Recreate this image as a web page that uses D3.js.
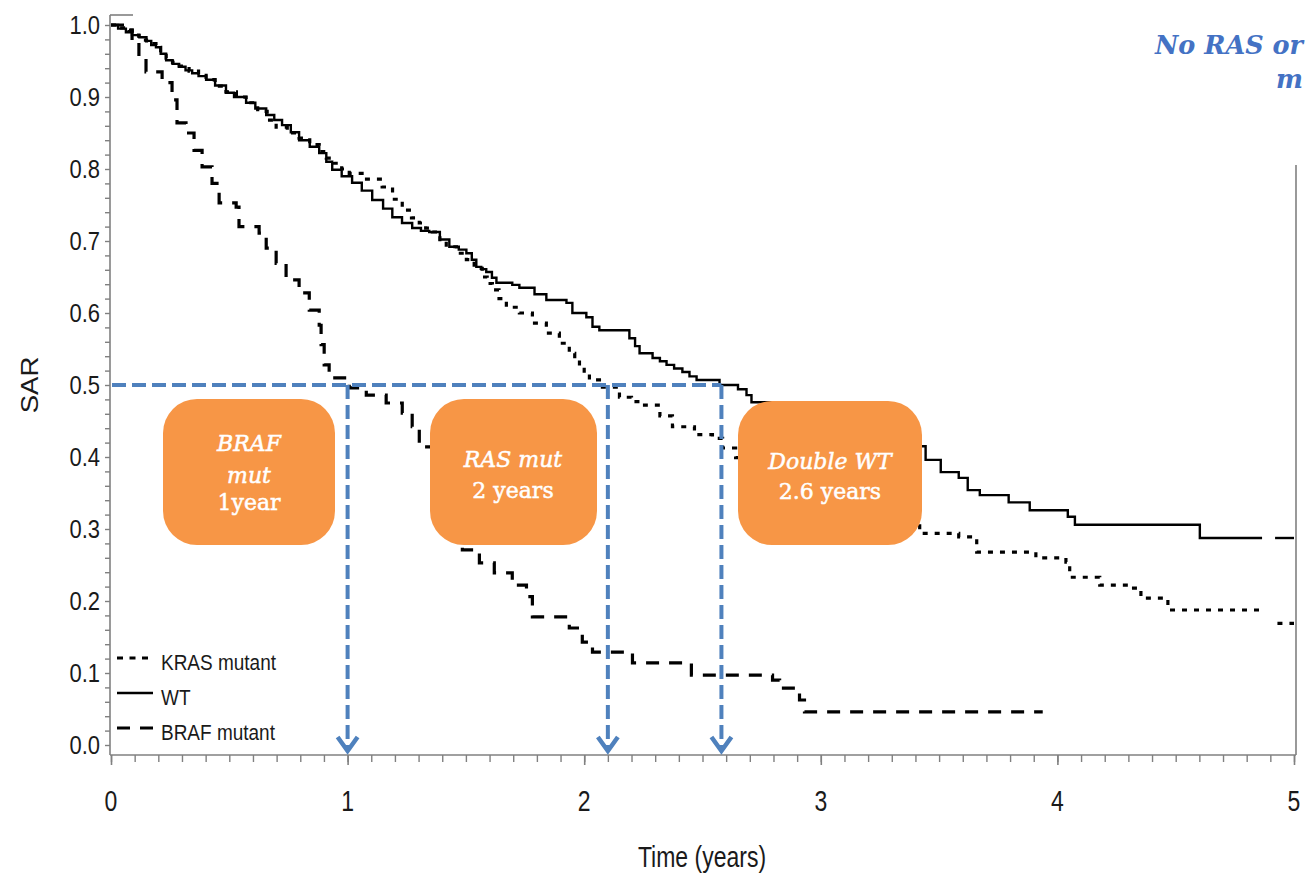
<!DOCTYPE html>
<html><head><meta charset="utf-8">
<script src="https://cdn.jsdelivr.net/npm/d3@7"></script>
<style>body{margin:0;background:#fff}svg{display:block}</style>
</head><body><svg id="c" width="1307" height="879"></svg>
<script>
// ---------- data ----------
const timeTicks = [0, 1, 2, 3, 4, 5];
const sarTicks = [0.0, 0.1, 0.2, 0.3, 0.4, 0.5, 0.6, 0.7, 0.8, 0.9, 1.0];
const seriesNames = ["KRAS mutant", "WT", "BRAF mutant"];

const wtTime = [0, 0.03, 0.063, 0.089, 0.12, 0.15, 0.17, 0.19, 0.21, 0.233, 0.26, 0.288, 0.315, 0.343, 0.37, 0.402, 0.44, 0.486, 0.52, 0.571, 0.61, 0.656, 0.69, 0.723, 0.76, 0.795, 0.84, 0.88, 0.91, 0.935, 0.975, 1.019, 1.06, 1.104, 1.15, 1.189, 1.23, 1.273, 1.31, 1.345, 1.39, 1.43, 1.47, 1.502, 1.525, 1.544, 1.565, 1.586, 1.61, 1.629, 1.696, 1.726, 1.79, 1.84, 1.925, 1.95, 2.009, 2.035, 2.064, 2.191, 2.215, 2.234, 2.289, 2.32, 2.348, 2.38, 2.415, 2.445, 2.475, 2.572, 2.65, 2.686, 2.707, 2.9, 3.12, 3.3, 3.443, 3.507, 3.583, 3.621, 3.672, 3.794, 3.883, 4.044, 4.074, 4.602, 4.865];
const wtSurv = [1.0, 0.995, 0.99, 0.986, 0.983, 0.978, 0.972, 0.969, 0.96, 0.951, 0.946, 0.942, 0.937, 0.933, 0.929, 0.924, 0.916, 0.906, 0.9, 0.892, 0.884, 0.875, 0.868, 0.861, 0.851, 0.84, 0.831, 0.822, 0.81, 0.799, 0.79, 0.781, 0.77, 0.757, 0.745, 0.733, 0.725, 0.718, 0.714, 0.7125, 0.702, 0.692, 0.688, 0.683, 0.674, 0.664, 0.661, 0.657, 0.649, 0.642, 0.639, 0.635, 0.626, 0.618, 0.614, 0.6, 0.594, 0.581, 0.576, 0.565, 0.554, 0.544, 0.5375, 0.533, 0.528, 0.523, 0.518, 0.512, 0.507, 0.5, 0.494, 0.486, 0.476, 0.46, 0.4375, 0.415, 0.396, 0.379, 0.371, 0.354, 0.347, 0.337, 0.326, 0.317, 0.306, 0.2875, 0.2875];
const wtTailTime = [4.92, 5.0];
const wtTailSurv = [0.2875, 0.2875];

const krasTime = [0, 0.03, 0.063, 0.09, 0.118, 0.15, 0.19, 0.21, 0.233, 0.26, 0.288, 0.33, 0.37, 0.402, 0.44, 0.486, 0.53, 0.571, 0.62, 0.66, 0.698, 0.745, 0.795, 0.84, 0.88, 0.91, 0.943, 0.975, 1.007, 1.08, 1.146, 1.19, 1.231, 1.27, 1.303, 1.33, 1.358, 1.39, 1.417, 1.46, 1.502, 1.535, 1.569, 1.59, 1.612, 1.64, 1.671, 1.726, 1.781, 1.84, 1.895, 1.937, 1.96, 1.98, 2.0, 2.022, 2.077, 2.149, 2.2, 2.255, 2.32, 2.373, 2.466, 2.542, 2.585, 2.64, 2.91, 3.249, 3.418, 3.583, 3.659, 3.909, 4.036, 4.052, 4.179, 4.306, 4.353, 4.467, 4.869];
const krasSurv = [1.0, 0.996, 0.993, 0.986, 0.979, 0.974, 0.969, 0.962, 0.954, 0.948, 0.943, 0.936, 0.93, 0.924, 0.915, 0.907, 0.9, 0.892, 0.88, 0.868, 0.858, 0.85, 0.843, 0.834, 0.824, 0.815, 0.808, 0.8, 0.794, 0.786, 0.775, 0.758, 0.743, 0.732, 0.725, 0.718, 0.7125, 0.702, 0.692, 0.683, 0.674, 0.662, 0.65, 0.641, 0.632, 0.62, 0.608, 0.6, 0.586, 0.572, 0.558, 0.544, 0.535, 0.525, 0.516, 0.507, 0.497, 0.483, 0.477, 0.472, 0.457, 0.442, 0.431, 0.426, 0.4125, 0.399, 0.354, 0.3125, 0.294, 0.289, 0.268, 0.26, 0.254, 0.233, 0.222, 0.218, 0.204, 0.1875, 0.1875];
const krasTailTime = [4.93, 5.0];
const krasTailSurv = [0.169, 0.169];

const brafTime = [0, 0.076, 0.089, 0.118, 0.148, 0.216, 0.258, 0.279, 0.317, 0.351, 0.385, 0.427, 0.457, 0.529, 0.541, 0.626, 0.656, 0.698, 0.74, 0.795, 0.838, 0.88, 0.888, 0.901, 0.922, 1.007, 1.079, 1.163, 1.231, 1.273, 1.303, 1.387, 1.451, 1.485, 1.557, 1.62, 1.696, 1.756, 1.781, 1.937, 1.992, 2.035, 2.204, 2.453, 2.796, 2.826, 2.91, 2.931, 3.938];
const brafSurv = [1.0, 0.993, 0.975, 0.956, 0.935, 0.92, 0.896, 0.864, 0.85, 0.826, 0.803, 0.78, 0.753, 0.747, 0.72, 0.711, 0.69, 0.669, 0.646, 0.628, 0.604, 0.583, 0.556, 0.528, 0.51, 0.496, 0.486, 0.475, 0.461, 0.442, 0.414, 0.368, 0.3125, 0.271, 0.253, 0.239, 0.222, 0.206, 0.178, 0.1625, 0.143, 0.129, 0.114, 0.097, 0.09, 0.079, 0.0625, 0.046, 0.046];

const medianLevel = 0.5;
const medianTimes = [1.0, 2.1, 2.58];
const boxLines = [["BRAF", "mut", "1year"], ["RAS mut", "2 years"], ["Double WT", "2.6 years"]];
const boxItalic = [[true, true, false], [true, false], [true, false]];
const titleLines = ["No RAS or", "m"];

// ---------- drawing ----------
const svg = d3.select("#c");
const x = d3.scaleLinear().domain([0, 5]).range([111, 1294]);
const y = d3.scaleLinear().domain([0, 1]).range([745, 25]);
const axisGrey = "#808080";
const sans = "Liberation Sans, Arial, sans-serif";

// frame
const axisY = 755, axisX = 110, rightX = 1296;
svg.append("line").attr("x1", axisX).attr("x2", axisX).attr("y1", 15).attr("y2", axisY).attr("stroke", axisGrey).attr("stroke-width", 1.6);
svg.append("line").attr("x1", axisX).attr("x2", 133).attr("y1", 15).attr("y2", 15).attr("stroke", axisGrey).attr("stroke-width", 1.6);
svg.append("line").attr("x1", axisX).attr("x2", rightX).attr("y1", axisY).attr("y2", axisY).attr("stroke", axisGrey).attr("stroke-width", 1.6);
svg.append("line").attr("x1", rightX).attr("x2", rightX).attr("y1", 165).attr("y2", axisY).attr("stroke", axisGrey).attr("stroke-width", 1.6);

// y ticks
const yMinor = d3.range(0, 1.0001, 0.02);
const gy = svg.append("g").attr("transform", `translate(${axisX},0)`)
  .call(d3.axisLeft(y).tickValues(yMinor).tickSize(5).tickFormat(""));
gy.select(".domain").remove();
gy.selectAll("line").attr("stroke", axisGrey).attr("stroke-width", 1.4);
sarTicks.forEach(v => {
  svg.append("text").attr("transform", `translate(100,${y(v)}) scale(1,1.15)`)
    .attr("text-anchor", "end").attr("dy", "0.36em")
    .attr("font-family", sans).attr("font-size", 22).attr("fill", "#1a1a1a")
    .text(v.toFixed(1));
});

// x ticks
const xMinor = d3.range(0, 5.0001, 0.1);
const gxm = svg.append("g").attr("transform", `translate(0,${axisY})`)
  .call(d3.axisBottom(x).tickValues(xMinor).tickSize(7).tickFormat(""));
gxm.select(".domain").remove();
gxm.selectAll("line").attr("stroke", axisGrey).attr("stroke-width", 1.4);
const gxM = svg.append("g").attr("transform", `translate(0,${axisY})`)
  .call(d3.axisBottom(x).tickValues(timeTicks).tickSize(10).tickFormat(""));
gxM.select(".domain").remove();
gxM.selectAll("line").attr("stroke", axisGrey).attr("stroke-width", 1.6);
timeTicks.forEach(t => {
  svg.append("text").attr("transform", `translate(${x(t)},800) scale(1,1.3)`)
    .attr("text-anchor", "middle").attr("dy", "0.36em")
    .attr("font-family", sans).attr("font-size", 23).attr("fill", "#1a1a1a")
    .text(String(t));
});

// axis titles
svg.append("text").attr("transform", "translate(702,857) scale(1,1.25)")
  .attr("text-anchor", "middle").attr("dy", "0.36em")
  .attr("font-family", sans).attr("font-size", 23).attr("fill", "#1a1a1a").text("Time (years)");
svg.append("text").attr("transform", "translate(30,385) rotate(-90) scale(1.2,1)")
  .attr("text-anchor", "middle").attr("dy", "0.36em")
  .attr("font-family", sans).attr("font-size", 23).attr("fill", "#1a1a1a").text("SAR");

// curves
const line = d3.line().x(d => x(d[0])).y(d => y(d[1])).curve(d3.curveStepAfter);
const zip = (a, b) => a.map((t, i) => [t, b[i]]);
const styles = {
  "KRAS mutant": {w: 3.2, dash: "5,7"},
  "WT": {w: 2.4, dash: null},
  "BRAF mutant": {w: 3.2, dash: "13,10"}
};
const curves = [
  {name: "WT", pts: zip(wtTime, wtSurv)},
  {name: "WT", pts: zip(wtTailTime, wtTailSurv)},
  {name: "KRAS mutant", pts: zip(krasTime, krasSurv)},
  {name: "KRAS mutant", pts: zip(krasTailTime, krasTailSurv)},
  {name: "BRAF mutant", pts: zip(brafTime, brafSurv)}
];
curves.forEach(c => {
  svg.append("path").attr("d", line(c.pts)).attr("fill", "none")
    .attr("stroke", "#000").attr("stroke-width", styles[c.name].w)
    .attr("stroke-dasharray", styles[c.name].dash);
});

// legend
const legY = [658, 693, 728];
seriesNames.forEach((n, i) => {
  const s = styles[n];
  svg.append("line").attr("x1", 117).attr("x2", 153).attr("y1", legY[i]).attr("y2", legY[i])
    .attr("stroke", "#000").attr("stroke-width", s.w)
    .attr("stroke-dasharray", n === "KRAS mutant" ? "6,6.5" : s.dash);
  svg.append("text").attr("transform", `translate(161,${legY[i] + 4}) scale(1,1.2)`)
    .attr("dy", "0.36em").attr("font-family", sans).attr("font-size", 19).attr("fill", "#1a1a1a").text(n);
});

// median guide lines
const blue = "#4f81bd";
svg.append("line").attr("x1", x(0) + 1).attr("x2", x(d3.max(medianTimes)))
  .attr("y1", y(medianLevel)).attr("y2", y(medianLevel))
  .attr("stroke", blue).attr("stroke-width", 4).attr("stroke-dasharray", "14,6");
medianTimes.forEach(t => {
  svg.append("line").attr("x1", x(t)).attr("x2", x(t)).attr("y1", y(medianLevel)).attr("y2", 750)
    .attr("stroke", blue).attr("stroke-width", 4).attr("stroke-dasharray", "14,6");
  svg.append("path").attr("d", `M${x(t) - 10},737 L${x(t)},751 L${x(t) + 10},737`)
    .attr("fill", "none").attr("stroke", blue).attr("stroke-width", 4.5).attr("stroke-linejoin", "miter");
});

// orange boxes
const boxes = [
  {x0: 163, x1: 335, y0: 399, y1: 545, cx: 249, ly: [443, 475, 502]},
  {x0: 430, x1: 597, y0: 399, y1: 545, cx: 513, ly: [459, 490]},
  {x0: 738, x1: 922, y0: 401, y1: 545, cx: 830, ly: [461, 491]}
];
const serif = "DejaVu Serif, serif";
boxes.forEach((b, i) => {
  svg.append("rect").attr("x", b.x0).attr("y", b.y0).attr("width", b.x1 - b.x0).attr("height", b.y1 - b.y0)
    .attr("rx", 34).attr("ry", 34).attr("fill", "#f79646");
  boxLines[i].forEach((txt, j) => {
    svg.append("text").attr("x", b.cx).attr("y", b.ly[j]).attr("dy", "0.35em")
      .attr("text-anchor", "middle").attr("font-family", serif).attr("font-size", 22)
      .attr("font-style", boxItalic[i][j] ? "italic" : "normal")
      .attr("fill", "#fff").attr("stroke", "#fff").attr("stroke-width", 0.5).text(txt);
  });
});

// top-right title (only the part visible in the reference)
svg.append("text").attr("x", 1155).attr("y", 54).attr("font-family", serif).attr("font-size", 25.5)
  .attr("font-style", "italic").attr("font-weight", "bold").attr("fill", "#4472c4").text(titleLines[0]);
svg.append("text").attr("x", 1276).attr("y", 88).attr("font-family", serif).attr("font-size", 25.5)
  .attr("font-style", "italic").attr("font-weight", "bold").attr("fill", "#4472c4").text(titleLines[1]);
</script></body></html>
